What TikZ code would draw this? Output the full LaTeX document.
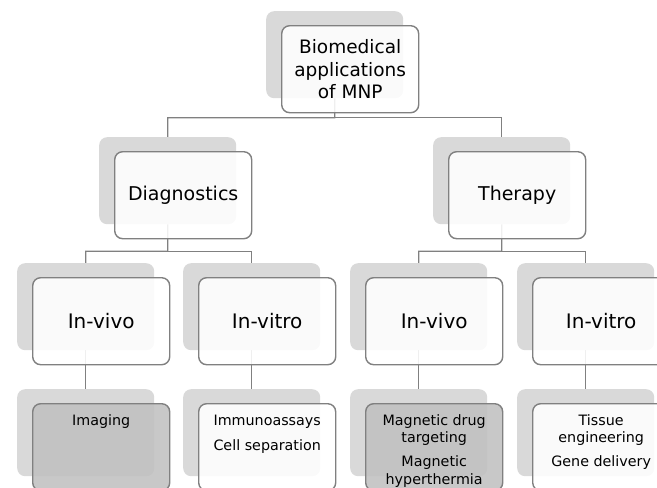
\documentclass[tikz,border=0pt]{standalone}
\usepackage{fontspec}
\setmainfont{DejaVu Sans}
\usetikzlibrary{backgrounds,calc}
\definecolor{shadowgray}{HTML}{D9D9D9}
\definecolor{edgegray}{HTML}{808080}
\definecolor{fillgray}{HTML}{C0C0C0}
\tikzset{
  shadowbox/.style={fill=shadowgray, rounded corners=8pt, minimum width=137pt,
    minimum height=87pt, inner sep=0pt, anchor=north west},
  frontbox/.style={draw=edgegray, line width=1.4pt, fill=white, fill opacity=0.88,
    text opacity=1, rounded corners=8pt, minimum width=137pt, minimum height=87pt,
    inner sep=0pt, anchor=north west, align=center},
  darkbox/.style={frontbox, fill=fillgray},
  link/.style={draw=edgegray, line width=1.4pt},
  toptext/.style={font=\fontsize{18.5}{22.5}\selectfont},
  midtext/.style={font=\fontsize{19}{23}\selectfont},
  lowtext/.style={font=\fontsize{20}{24}\selectfont},
  leaftext/.style={font=\fontsize{14.3}{17.2}\selectfont, align=center, anchor=north, inner sep=0pt},
}
\begin{document}
\begin{tikzpicture}[x=1pt,y=-1pt]
\useasboundingbox (0,0) rectangle (657,488);
\clip (0,0) rectangle (657,488);
% shadows
\node[shadowbox] (top-s) at (266,11) {};
\node[shadowbox] (diag-s) at (99,137) {};
\node[shadowbox] (ther-s) at (433,137) {};
\node[shadowbox] (dvivo-s) at (17,263) {};
\node[shadowbox] (dvitro-s) at (183,263) {};
\node[shadowbox] (tvivo-s) at (350,263) {};
\node[shadowbox] (tvitro-s) at (517,263) {};
\node[shadowbox] (img-s) at (17,389) {};
\node[shadowbox] (imm-s) at (183,389) {};
\node[shadowbox] (mag-s) at (350,389) {};
\node[shadowbox] (tis-s) at (517,389) {};
% front boxes
\node[frontbox, toptext] (top) at (281,25) {Biomedical\\applications\\of MNP};
\node[frontbox, midtext] (diag) at (114,151) {Diagnostics};
\node[frontbox, midtext] (ther) at (448,151) {Therapy};
\node[frontbox, lowtext] (dvivo) at (32,277) {In-vivo};
\node[frontbox, lowtext] (dvitro) at (198,277) {In-vitro};
\node[frontbox, lowtext] (tvivo) at (365,277) {In-vivo};
\node[frontbox, lowtext] (tvitro) at (532,277) {In-vitro};
\node[darkbox] (img) at (32,403) {};
\node[frontbox] (imm) at (198,403) {};
\node[darkbox] (mag) at (365,403) {};
\node[frontbox] (tis) at (532,403) {};
% leaf texts
\node[leaftext] (img-t) at ($(img.north)+(0,11.5)$) {Imaging};
\node[leaftext] (imm-t) at ($(imm.north)+(0,11.5)$) {Immunoassays\\[8.5pt]Cell separation};
\node[leaftext] (mag-t) at ($(mag.north)+(0,11.5)$) {Magnetic drug\\targeting\\[7pt]Magnetic\\hyperthermia};
\node[leaftext] (tis-t) at ($(tis.north)+(0,11.5)$) {Tissue\\engineering\\[7pt]Gene delivery};
% connectors
\coordinate (b1) at ($(top-s.south)!0.5!(top-s.south |- diag-s.north)$);
\coordinate (b2) at ($(diag-s.south |- diag.south)!0.5!(diag-s.south |- dvivo-s.north)$);
\coordinate (b3) at ($(ther-s.south |- ther.south)!0.5!(ther-s.south |- tvivo-s.north)$);
\begin{pgfonlayer}{background}
\draw[link] (top-s.south) -- (b1) -| (diag-s.north);
\draw[link] (b1) -| (ther-s.north);
\draw[link] (diag-s.south) -- (b2) -| (dvivo-s.north);
\draw[link] (b2) -| (dvitro-s.north);
\draw[link] (ther-s.south) -- (b3) -| (tvivo-s.north);
\draw[link] (b3) -| (tvitro-s.north);
\draw[link] (dvivo-s.south) -- (img-s.north);
\draw[link] (dvitro-s.south) -- (imm-s.north);
\draw[link] (tvivo-s.south) -- (mag-s.north);
\draw[link] (tvitro-s.south) -- (tis-s.north);
\end{pgfonlayer}
\end{tikzpicture}
\end{document}
